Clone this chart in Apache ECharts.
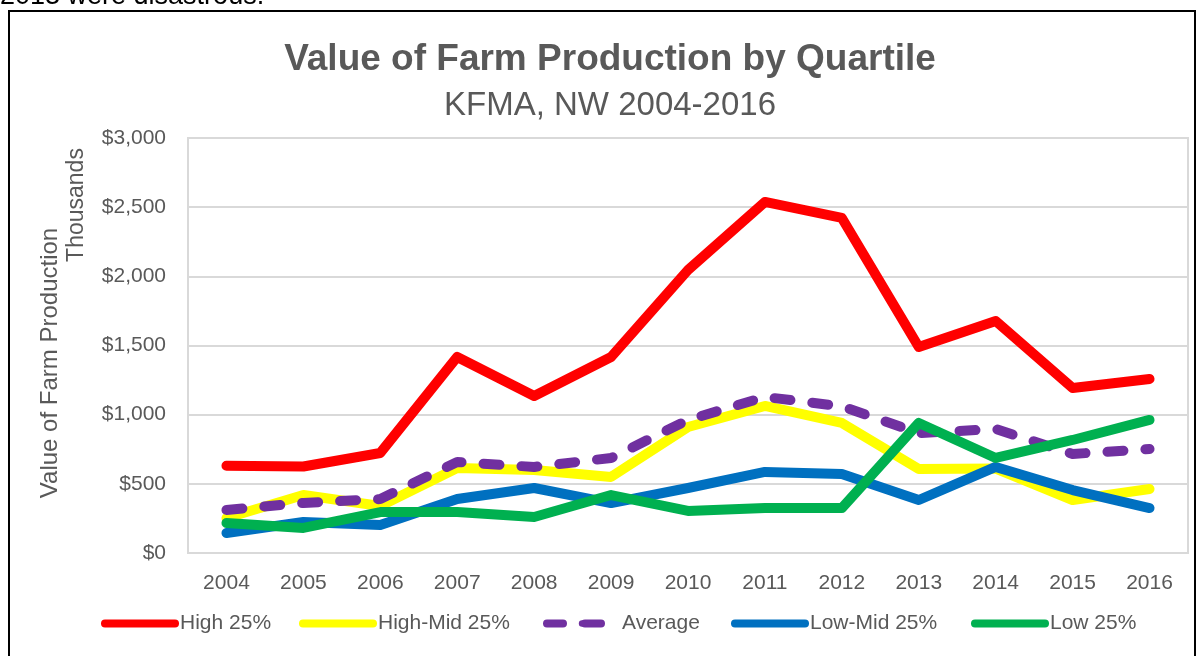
<!DOCTYPE html>
<html>
<head>
<meta charset="utf-8">
<title>Value of Farm Production by Quartile</title>
<script src="https://cdn.jsdelivr.net/npm/echarts@6/dist/echarts.min.js"></script>
<style>
    html, body { margin: 0; padding: 0; background: #fff; }
    #main { width: 1202px; height: 656px; }
</style>
</head>
<body>
<div id="main"></div>
<script>
// data (thousands of $)
var years = ['2004', '2005', '2006', '2007', '2008', '2009', '2010', '2011', '2012', '2013', '2014', '2015', '2016'];
var high25 = [630, 625, 723, 1417, 1135, 1417, 2046, 2538, 2422, 1489, 1677, 1193, 1258];
var highMid25 = [253, 419, 340, 614, 600, 550, 911, 1063, 940, 607, 610, 383, 463];
var average = [311, 362, 390, 658, 622, 687, 962, 1128, 1060, 867, 896, 716, 752];
var lowMid25 = [145, 224, 202, 390, 470, 361, 470, 586, 571, 383, 622, 455, 325];
var low25 = [217, 181, 296, 296, 260, 419, 304, 325, 325, 940, 687, 817, 962];

var seriesNames = ['High 25%', 'High-Mid 25%', 'Average', 'Low-Mid 25%', 'Low 25%'];
var seriesColors = ['#ff0000', '#ffff00', '#7030a0', '#0070c0', '#00b050'];
var legendLeft = [101, 299, 543, 731, 971];

var font = 'Liberation Sans, Arial, sans-serif';
var grey = '#595959';

var chart = echarts.init(document.getElementById('main'), null, {renderer: 'canvas'});

function makeSeries(name, data, idx) {
    return {
        name: name,
        type: 'line',
        data: data,
        symbol: 'none',
        lineStyle: {
            color: seriesColors[idx],
            width: 10,
            cap: 'round',
            join: 'round',
            type: name === 'Average' ? [16, 22] : 'solid'
        },
        itemStyle: {color: seriesColors[idx]}
    };
}

//one legend per item so each sits where it does in the picture
var legends = [];
for (var i = 0; i < seriesNames.length; i++) {
    legends.push({
        data: [seriesNames[i]],
        left: legendLeft[i],
        top: 613,
        padding: 0,
        itemWidth: 70,
        itemHeight: 8,
        lineStyle: {width: 8, cap: 'round'},
        textStyle: {color: grey, fontSize: 21, fontFamily: font}
    });
}

var options = {
    animation: false,
    backgroundColor: '#fff',
    textStyle: {fontFamily: font},
    grid: {
        left: 188,
        right: 14,
        top: 138,
        bottom: 103,
        show: true,
        borderColor: '#d9d9d9',
        borderWidth: 2,
        containLabel: false,
        outerBoundsMode: 'none'
    },
    legend: legends,
    xAxis: {
        type: 'category',
        data: years,
        boundaryGap: true,
        axisTick: {show: false},
        axisLine: {lineStyle: {color: '#d9d9d9', width: 2}},
        axisLabel: {color: grey, fontSize: 21, fontFamily: font, margin: 20}
    },
    yAxis: {
        type: 'value',
        min: 0,
        max: 3000,
        interval: 500,
        axisLine: {show: true, lineStyle: {color: '#d9d9d9', width: 2}},
        axisTick: {show: false},
        splitLine: {lineStyle: {color: '#d9d9d9', width: 2}},
        axisLabel: {
            color: grey,
            fontSize: 21,
            fontFamily: font,
            margin: 22,
            formatter: function (v) {
                return '$' + v.toLocaleString('en-US');
            }
        }
    },
    graphic: [
        {
            type: 'text', x: 0, y: 10, z: 10,
            style: {text: '2013 were disastrous.', fill: '#000',
                font: '27px ' + font, align: 'left', verticalAlign: 'bottom'}
        },
        {
            type: 'rect', z: -1, silent: true,
            shape: {x: 9, y: 11, width: 1186, height: 660},
            style: {fill: null, stroke: '#000', lineWidth: 2}
        },
        {
            type: 'text', x: 610, y: 60, z: 10,
            style: {text: 'Value of Farm Production by Quartile', fill: grey,
                font: 'bold 37px ' + font, align: 'center', verticalAlign: 'middle'}
        },
        {
            type: 'text', x: 610, y: 106, z: 10,
            style: {text: 'KFMA, NW 2004-2016', fill: grey,
                font: '33px ' + font, align: 'center', verticalAlign: 'middle'}
        },
        {
            type: 'text', x: 50, y: 363, rotation: Math.PI / 2, z: 10,
            style: {text: 'Value of Farm Production', fill: grey,
                font: '24px ' + font, align: 'center', verticalAlign: 'middle'}
        },
        {
            type: 'text', x: 77, y: 205, rotation: Math.PI / 2, z: 10,
            style: {text: 'Thousands', fill: grey,
                font: '23px ' + font, align: 'center', verticalAlign: 'middle'}
        }
    ],
    series: [
        makeSeries(seriesNames[0], high25, 0),
        makeSeries(seriesNames[1], highMid25, 1),
        makeSeries(seriesNames[2], average, 2),
        makeSeries(seriesNames[3], lowMid25, 3),
        makeSeries(seriesNames[4], low25, 4)
    ]
};

chart.setOption(options);
</script>
</body>
</html>
